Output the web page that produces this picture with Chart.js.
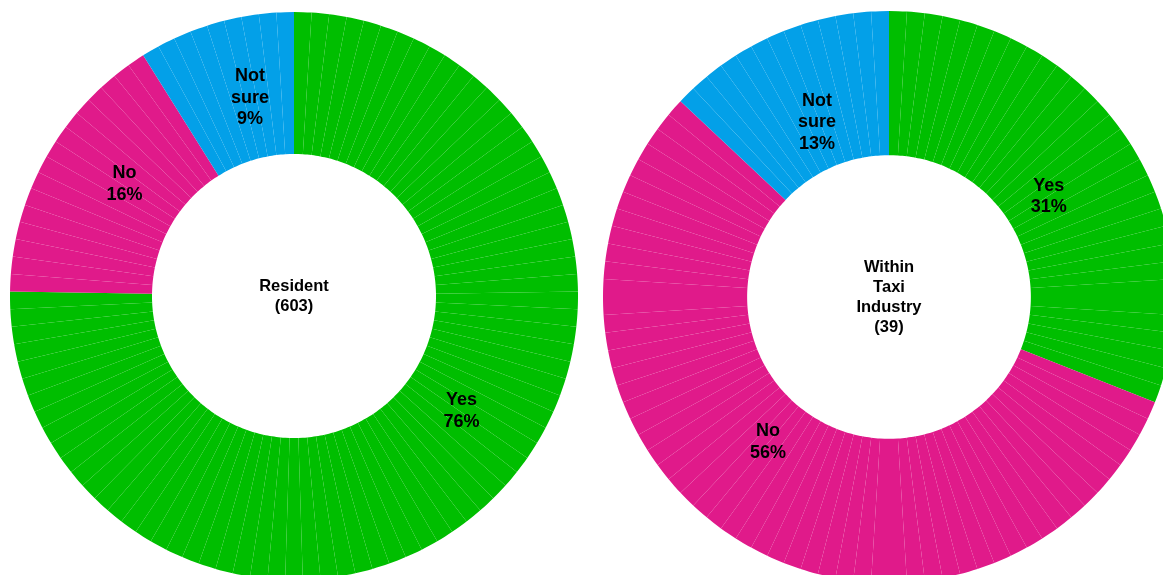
<!DOCTYPE html>
<html>
<head>
<meta charset="utf-8">
<script src="https://cdn.jsdelivr.net/npm/chart.js@4.4.1/dist/chart.umd.min.js"></script>
<style>
  html, body { margin: 0; padding: 0; background: #fff; overflow: hidden; width: 1163px; height: 575px; }
  .wrap { position: absolute; }
  #residentWrap { left: 10px; top: 12px; width: 568px; height: 568px; }
  #taxiWrap { left: 603px; top: 11px; width: 572px; height: 572px; }
</style>
</head>
<body>
<div class="wrap" id="residentWrap"><canvas id="resident" width="568" height="568"></canvas></div>
<div class="wrap" id="taxiWrap"><canvas id="taxi" width="572" height="572"></canvas></div>
<script>
// Answer categories and their label lines
const categories = ['Yes', 'No', 'Not sure'];
const categoryLines = [['Yes'], ['No'], ['Not', 'sure']];

// Percent of respondents per answer
const residentPct = [76, 16, 9];
const taxiPct = [31, 56, 13];

// Text in the middle of each ring
const residentTitle = ['Resident', '(603)'];
const taxiTitle = ['Within', 'Taxi', 'Industry', '(39)'];

const palette = ['#00BE00', '#E01A8A', '#03A0E8'];
const FONT = '"Liberation Sans", Arial, Helvetica, sans-serif';

// Each answer is drawn as a run of one-percent wedges; the anti-aliased
// joins between them give the ring its fine radial seams.
function unitSlices(pcts) {
  const values = [], colors = [], owner = [];
  pcts.forEach((p, ci) => {
    for (let k = 0; k < p; k++) {
      values.push(1);
      colors.push(palette[ci]);
      owner.push(ci);
    }
  });
  return { values, colors, owner };
}

const ringLabels = {
  id: 'ringLabels',
  afterDatasetsDraw(chart, args, opts) {
    const ctx = chart.ctx;
    const meta = chart.getDatasetMeta(0);
    const owner = opts.owner;
    const first = meta.data[0];
    const cx = first.x, cy = first.y;
    const outer = first.outerRadius;

    ctx.save();
    ctx.fillStyle = '#000';
    ctx.textAlign = 'center';
    ctx.textBaseline = 'middle';

    // category labels at the middle of each run of wedges
    opts.pcts.forEach((p, ci) => {
      const idx = [];
      owner.forEach((o, i) => { if (o === ci) idx.push(i); });
      if (!idx.length) return;
      const a0 = meta.data[idx[0]].startAngle;
      const a1 = meta.data[idx[idx.length - 1]].endAngle;
      const mid = (a0 + a1) / 2 + (opts.shift[ci] || 0) * Math.PI / 180;
      const r = outer * opts.radius;
      const x = cx + Math.cos(mid) * r;
      const y = cy + Math.sin(mid) * r;
      const lines = categoryLines[ci].concat([p + '%']);
      ctx.font = 'bold 18px ' + FONT;
      lines.forEach((t, li) => {
        ctx.fillText(t, x, y + (li - (lines.length - 1) / 2) * 21.5);
      });
    });

    // centre title
    ctx.font = 'bold 16.5px ' + FONT;
    opts.title.forEach((t, li) => {
      ctx.fillText(t, cx, cy + (li - (opts.title.length - 1) / 2) * 20);
    });
    ctx.restore();
  }
};

function makeRing(canvasId, pcts, title, cutout, radius, shift) {
  const s = unitSlices(pcts);
  return new Chart(document.getElementById(canvasId), {
    type: 'doughnut',
    data: {
      labels: s.owner.map(o => categories[o]),
      datasets: [{
        data: s.values,
        backgroundColor: s.colors,
        borderWidth: 0,
        hoverOffset: 0
      }]
    },
    options: {
      responsive: false,
      animation: false,
      cutout: cutout,
      layout: { padding: 0 },
      events: [],
      plugins: {
        legend: { display: false },
        tooltip: { enabled: false },
        ringLabels: { owner: s.owner, pcts: pcts, title: title, radius: radius, shift: shift }
      }
    },
    plugins: [ringLabels]
  });
}

makeRing('resident', residentPct, residentTitle, '50%', 0.715, [-11, 4, 3.5]);
makeRing('taxi', taxiPct, taxiTitle, '49.6%', 0.66, [2, 7.5, 1]);
</script>
</body>
</html>
